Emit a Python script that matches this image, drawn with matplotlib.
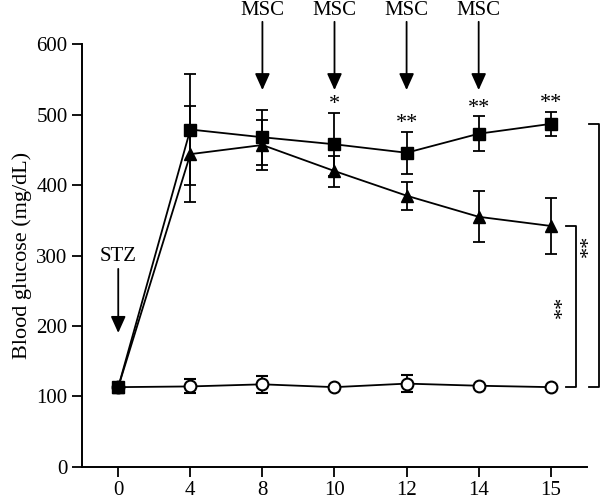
import numpy as np
from matplotlib import pyplot as plt

plt.rcParams['font.family'] = ['Liberation Serif', 'DejaVu Serif']

days = ["0", "4", "8", "10", "12", "14", "15"]

# diabetic (STZ only), squares
stz_mean = [113, 479, 468, 458, 446, 473, 487]
stz_err = [0, 79, 39, 45, 30, 25, 17]
# STZ + MSC, triangles
msc_mean = [113, 444, 457, 420, 385, 355, 342]
msc_err = [0, 68, 35, 22, 20, 36, 40]
# normal control, circles
ctrl_mean = [113, 114, 117, 113, 118, 115, 113]
ctrl_err = [0, 10, 12, 0, 12, 0, 0]

msc_days = [2, 3, 4, 5]  # index of days with MSC injection
star_labels = ["*", "**", "**", "**"]
star_idx = [3, 4, 5, 6]

x = np.arange(len(days))

fig = plt.figure(figsize=(6, 5.01), dpi=100)
ax = fig.add_axes([0.137, 0.0685, 0.841, 0.843])

ax.errorbar(x, ctrl_mean, yerr=ctrl_err, color="black", marker="o", markersize=8.5,
            markerfacecolor="white", markeredgewidth=1.5, lw=1.3, capsize=4.3,
            elinewidth=1.3, capthick=1.3, zorder=2)
ax.errorbar(x, msc_mean, yerr=msc_err, color="black", marker="^", markersize=8.5,
            lw=1.3, capsize=4.3, elinewidth=1.3, capthick=1.3, zorder=3)
ax.errorbar(x, stz_mean, yerr=stz_err, color="black", marker="s", markersize=8,
            lw=1.3, capsize=4.3, elinewidth=1.3, capthick=1.3, zorder=4)

# significance stars above the square series
for i, s in zip(star_idx, star_labels):
    ax.text(i, stz_mean[i] + stz_err[i] - 2, s, ha="center", va="bottom", fontsize=16)

# MSC arrows
for i in msc_days:
    ax.annotate("", xy=(i, 535), xytext=(i, 632), annotation_clip=False,
                arrowprops=dict(arrowstyle="-|>,head_width=0.45,head_length=1.0",
                                color="black", lw=1.3, shrinkA=0, shrinkB=0))
    ax.text(i, 634, "MSC", ha="center", va="bottom", fontsize=15, clip_on=False)

# STZ arrow
ax.annotate("", xy=(0, 190), xytext=(0, 281),
            arrowprops=dict(arrowstyle="-|>,head_width=0.45,head_length=1.0",
                            color="black", lw=1.3, shrinkA=0, shrinkB=0))
ax.text(0, 285, "STZ", ha="center", va="bottom", fontsize=15)

# brackets on the right
bx1 = 6.21
ax.plot([bx1, bx1 + 0.14, bx1 + 0.14, bx1], [msc_mean[6], msc_mean[6], ctrl_mean[6], ctrl_mean[6]],
        color="black", lw=1.3, clip_on=False)
ax.text(bx1 - 0.03, 227, "**", rotation=90, ha="center", va="center", fontsize=16, clip_on=False)
bx2 = 6.53
ax.plot([bx2, bx2 + 0.14, bx2 + 0.14, bx2], [stz_mean[6], stz_mean[6], ctrl_mean[6], ctrl_mean[6]],
        color="black", lw=1.3, clip_on=False)
ax.text(bx2 + 0.01, 313, "**", rotation=90, ha="center", va="center", fontsize=16, clip_on=False)

ax.set_xlim(-0.5, 6.5)
ax.set_ylim(0, 600)
ax.set_xticks(x)
ax.set_xticklabels(days)
ax.set_yticks([0, 100, 200, 300, 400, 500, 600])
ax.set_ylabel("Blood glucose (mg/dL)", fontsize=16, labelpad=3)
ax.tick_params(labelsize=15, length=7, width=1.3, direction="out")
for side in ["top", "right"]:
    ax.spines[side].set_visible(False)
for side in ["left", "bottom"]:
    ax.spines[side].set_linewidth(1.4)

plt.savefig("out.png", dpi=100)
